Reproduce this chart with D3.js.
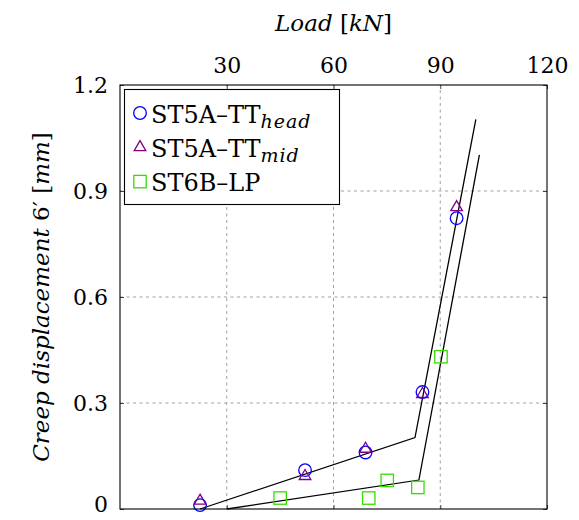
<!DOCTYPE html>
<html>
<head>
<meta charset="utf-8">
<script src="https://cdn.jsdelivr.net/npm/d3@7"></script>
<style>
  body { margin: 0; background: #fff; }
</style>
</head>
<body>
<div id="chart"></div>
<script>
// Load in kN (x) and creep displacement in mm (y)
const headLoad = [22.5, 52, 69, 85, 94.6];
const headDisp = [0.011, 0.11, 0.16, 0.331, 0.823];
const midLoad = [22.5, 52, 69, 85, 94.6];
const midDisp = [0.023, 0.093, 0.17, 0.325, 0.854];
const lpLoad = [45, 69.9, 75.1, 83.7, 90.2];
const lpDisp = [0.031, 0.031, 0.081, 0.061, 0.431];

// bilinear fit lines
const fitALoad = [22.5, 82.9, 100];
const fitADisp = [0, 0.202, 1.103];
const fitBLoad = [30, 84, 101];
const fitBDisp = [0, 0.082, 1.002];

const xTicks = [30, 60, 90, 120];
const yTicks = [0, 0.3, 0.6, 0.9, 1.2];

const width = 579, height = 520;
const margin = {top: 85, right: 32, bottom: 11, left: 120};
const serif = "'DejaVu Serif', serif";

const svg = d3.select("#chart").append("svg")
  .attr("width", width)
  .attr("height", height)
  .attr("font-family", serif);

const x = d3.scaleLinear().domain([0, 120]).range([margin.left, width - margin.right]);
const y = d3.scaleLinear().domain([0, 1.2]).range([height - margin.bottom, margin.top]);

const x0 = x.range()[0], x1 = x.range()[1];
const y0 = y.range()[0], y1 = y.range()[1];

// grid lines
svg.append("g").selectAll("line")
  .data(xTicks.filter(d => d > 0 && d < 120))
  .enter().append("line")
  .attr("x1", d => x(d)).attr("x2", d => x(d))
  .attr("y1", y0).attr("y2", y1)
  .attr("stroke", "#a0a0a0").attr("stroke-dasharray", "3,3.5");

svg.append("g").selectAll("line")
  .data(yTicks.filter(d => d > 0 && d < 1.2))
  .enter().append("line")
  .attr("y1", d => y(d)).attr("y2", d => y(d))
  .attr("x1", x0).attr("x2", x1)
  .attr("stroke", "#a0a0a0").attr("stroke-dasharray", "3,3.5");

// axes (ticks pointing inward)
const fmtY = d => d === 0 ? "0" : d3.format(".1f")(d);

const axTop = svg.append("g")
  .attr("transform", `translate(0,${y1})`)
  .call(d3.axisTop(x).tickValues(xTicks).tickSizeInner(-4).tickSizeOuter(0).tickPadding(12));
const axBottom = svg.append("g")
  .attr("transform", `translate(0,${y0})`)
  .call(d3.axisBottom(x).tickValues(xTicks).tickSizeInner(-4).tickSizeOuter(0).tickFormat(""));
const axLeft = svg.append("g")
  .attr("transform", `translate(${x0},0)`)
  .call(d3.axisLeft(y).tickValues(yTicks).tickSizeInner(-4).tickSizeOuter(0).tickPadding(12).tickFormat(fmtY));
const axRight = svg.append("g")
  .attr("transform", `translate(${x1},0)`)
  .call(d3.axisRight(y).tickValues(yTicks).tickSizeInner(-4).tickSizeOuter(0).tickFormat(""));

[axTop, axBottom, axLeft, axRight].forEach(g => {
  g.select(".domain").remove();
  g.selectAll(".tick line").attr("stroke", "#444");
  g.attr("font-family", serif).attr("font-size", 22);
});
// the "0" label sits a little higher so it stays inside the picture
axLeft.selectAll("text").attr("dy", d => d === 0 ? "0.12em" : "0.33em");

// fit lines
const line = d3.line().x(d => x(d[0])).y(d => y(d[1]));
[[fitALoad, fitADisp], [fitBLoad, fitBDisp]].forEach(([lx, ly]) => {
  svg.append("path")
    .datum(lx.map((v, i) => [v, ly[i]]))
    .attr("d", line)
    .attr("fill", "none")
    .attr("stroke", "#000")
    .attr("stroke-width", 1.3);
});

// markers
const tri = d3.symbol().type(d3.symbolTriangle).size(58);
function drawCircle(g, cx, cy) {
  g.append("circle").attr("cx", cx).attr("cy", cy).attr("r", 6.3)
    .attr("fill", "none").attr("stroke", "#0000ff").attr("stroke-width", 1.3);
}
function drawTri(g, cx, cy) {
  g.append("path").attr("d", tri).attr("transform", `translate(${cx},${cy})`)
    .attr("fill", "none").attr("stroke", "#800080").attr("stroke-width", 1.3);
}
function drawSquare(g, cx, cy) {
  g.append("rect").attr("x", cx - 6.2).attr("y", cy - 6.2).attr("width", 12.4).attr("height", 12.4)
    .attr("fill", "none").attr("stroke", "#33dd00").attr("stroke-width", 1.3);
}

const marks = svg.append("g");
headLoad.forEach((v, i) => drawCircle(marks, x(v), y(headDisp[i])));
midLoad.forEach((v, i) => drawTri(marks, x(v), y(midDisp[i])));
lpLoad.forEach((v, i) => drawSquare(marks, x(v), y(lpDisp[i])));

// frame
svg.append("rect")
  .attr("x", x0).attr("y", y1)
  .attr("width", x1 - x0).attr("height", y0 - y1)
  .attr("fill", "none").attr("stroke", "#000").attr("stroke-width", 1.1);

// legend
const legend = svg.append("g");
legend.append("rect")
  .attr("x", 124.5).attr("y", 89.5).attr("width", 215).attr("height", 115)
  .attr("fill", "#fff").attr("stroke", "#000").attr("stroke-width", 1.1);

const legendItems = [
  {main: "ST5A–TT", sub: "head", draw: drawCircle},
  {main: "ST5A–TT", sub: "mid", draw: drawTri},
  {main: "ST6B–LP", sub: null, draw: drawSquare}
];
legendItems.forEach((d, i) => {
  const cy = 113 + i * 34.3;
  d.draw(legend, 140, cy);
  const t = legend.append("text")
    .attr("x", 151).attr("y", cy + 9.5)
    .attr("font-size", 24);
  t.append("tspan").text(d.main);
  if (d.sub) {
    t.append("tspan").attr("dy", 5).attr("font-size", 19).attr("font-style", "italic")
      .attr("letter-spacing", 1).text(d.sub);
  }
});

// axis titles
const xt = svg.append("text")
  .attr("x", (x0 + x1) / 2).attr("y", 31)
  .attr("text-anchor", "middle")
  .attr("font-size", 23);
xt.append("tspan").attr("font-style", "italic").text("Load");
xt.append("tspan").text(" [");
xt.append("tspan").attr("font-style", "italic").text("kN");
xt.append("tspan").text("]");

const yt = svg.append("text")
  .attr("transform", `translate(49,${(y0 + y1) / 2}) rotate(-90)`)
  .attr("text-anchor", "middle")
  .attr("font-size", 23);
yt.append("tspan").attr("font-style", "italic").text("Creep displacement");
yt.append("tspan").text(" 6′ [");
yt.append("tspan").attr("font-style", "italic").text("mm");
yt.append("tspan").text("]");
</script>
</body>
</html>
